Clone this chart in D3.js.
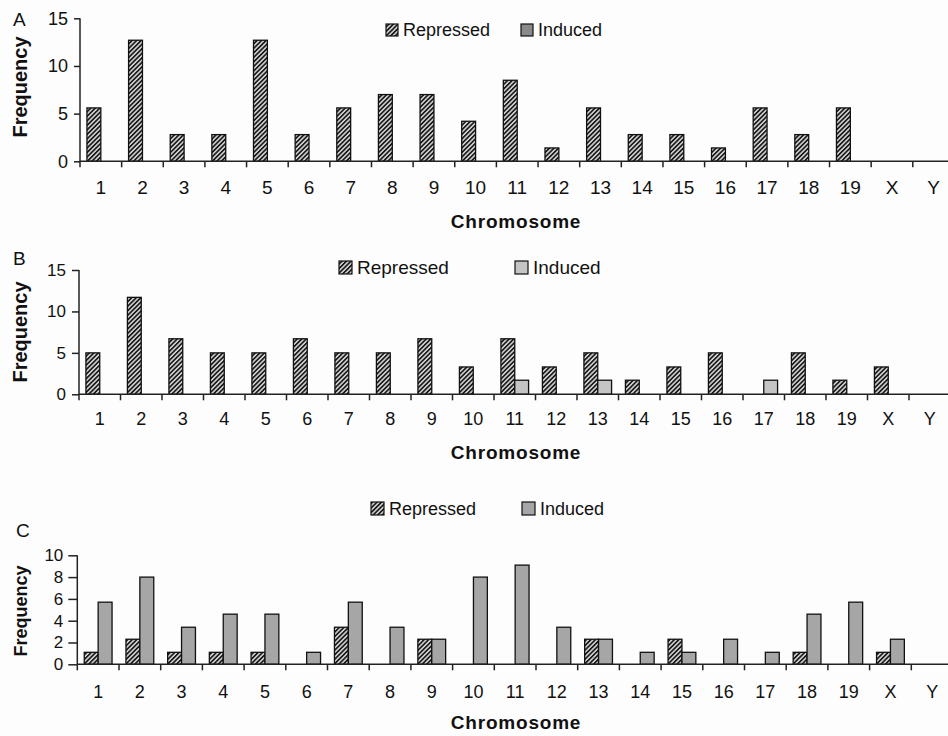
<!DOCTYPE html>
<html>
<head>
<meta charset="utf-8">
<script src="https://cdn.jsdelivr.net/npm/d3@7"></script>
<style>
  body { margin: 0; background: #fff; }
  svg { display: block; font-family: "Liberation Sans", Arial, sans-serif; }
</style>
</head>
<body>
<svg id="chart" width="948" height="736"></svg>
<script>
// chromosome categories
const chromosomes = ["1","2","3","4","5","6","7","8","9","10","11","12","13","14","15","16","17","18","19","X","Y"];
const seriesNames = ["Repressed", "Induced"];

// panel A (percent of genes per chromosome)
const repressedA = [5.6,12.7,2.8,2.8,12.7,2.8,5.6,7.0,7.0,4.2,8.5,1.4,5.6,2.8,2.8,1.4,5.6,2.8,5.6,0,0];
const inducedA   = [0,0,0,0,0,0,0,0,0,0,0,0,0,0,0,0,0,0,0,0,0];
const ticksA = [0,5,10,15];

// panel B
const repressedB = [5.0,11.7,6.7,5.0,5.0,6.7,5.0,5.0,6.7,3.3,6.7,3.3,5.0,1.7,3.3,5.0,0,5.0,1.7,3.3,0];
const inducedB   = [0,0,0,0,0,0,0,0,0,0,1.7,0,1.7,0,0,0,1.7,0,0,0,0];
const ticksB = [0,5,10,15];

// panel C
const repressedC = [1.1,2.3,1.1,1.1,1.1,0,3.4,0,2.3,0,0,0,2.3,0,2.3,0,0,1.1,0,1.1,0];
const inducedC   = [5.7,8.0,3.4,4.6,4.6,1.1,5.7,3.4,2.3,8.0,9.1,3.4,2.3,1.1,1.1,2.3,1.1,4.6,5.7,2.3,0];
const ticksC = [0,2,4,6,8,10];

const svg = d3.select("#chart");
svg.append("rect").attr("width", 948).attr("height", 736).attr("fill", "#fdfdfd");

// hatch pattern for repressed bars
const defs = svg.append("defs");
const pat = defs.append("pattern")
  .attr("id", "hatch")
  .attr("patternUnits", "userSpaceOnUse")
  .attr("width", 3.2).attr("height", 3.2)
  .attr("patternTransform", "rotate(45)");
pat.append("rect").attr("width", 3.2).attr("height", 3.2).attr("fill", "#d8d8d8");
pat.append("rect").attr("width", 1.7).attr("height", 3.2).attr("fill", "#1a1a1a");

function drawPanel(p) {
  const g = svg.append("g");
  const x = d3.scaleBand().domain(chromosomes).range([p.x0, p.x0 + 21 * p.step]).padding(0);
  const xs = d3.scaleBand().domain(seriesNames).range([0, x.bandwidth()]).paddingOuter(0.5).paddingInner(0);
  const y = d3.scaleLinear().domain([0, p.ymax]).range([p.y0, p.ytop]);

  const rows = chromosomes.map((c, i) => ({ c: c, Repressed: p.rep[i], Induced: p.ind[i] }));

  // bars
  const grp = g.selectAll(".grp").data(rows).enter().append("g")
    .attr("transform", d => `translate(${x(d.c)},0)`);
  grp.selectAll("rect")
    .data(d => seriesNames.map(s => ({ s: s, v: d[s] })).filter(e => e.v > 0))
    .enter().append("rect")
    .attr("x", e => xs(e.s))
    .attr("y", e => y(e.v))
    .attr("width", xs.bandwidth())
    .attr("height", e => y(0) - y(e.v))
    .attr("fill", e => e.s === "Repressed" ? "url(#hatch)" : p.indColor)
    .attr("stroke", "#111")
    .attr("stroke-width", 1.3);

  // x axis: labels centred in bands, ticks on band edges
  const xAxis = g.append("g").attr("transform", `translate(0,${p.y0})`)
    .call(d3.axisBottom(x).tickSize(0).tickPadding(p.xPad));
  xAxis.select(".domain").attr("stroke", "#222").attr("stroke-width", 1.5)
    .attr("d", `M${p.x0},0H948`);
  xAxis.selectAll("text").attr("font-size", p.xFont).attr("fill", "#111")
    .attr("font-family", "Liberation Sans, Arial, sans-serif");
  g.selectAll(".xt").data(chromosomes.concat(["end"])).enter().append("line")
    .attr("x1", (d, i) => i < 21 ? x(d) : x.range()[1])
    .attr("x2", (d, i) => i < 21 ? x(d) : x.range()[1])
    .attr("y1", p.y0).attr("y2", p.y0 + 6)
    .attr("stroke", "#222").attr("stroke-width", 1.5);

  // y axis
  const yAxis = g.append("g").attr("transform", `translate(${p.x0},0)`)
    .call(d3.axisLeft(y).tickValues(p.ticks).tickSize(p.yTick).tickPadding(p.yPad).tickFormat(d3.format("d")));
  yAxis.select(".domain").attr("stroke", "#222").attr("stroke-width", 1.5)
    .attr("d", `M0,${p.y0}V${p.ytop}`);
  yAxis.selectAll(".tick line").attr("stroke", "#222").attr("stroke-width", 1.5);
  yAxis.selectAll("text").attr("font-size", p.yFont).attr("fill", "#111")
    .attr("font-family", "Liberation Sans, Arial, sans-serif");

  // axis titles
  g.append("text").attr("transform", `translate(${p.fx},${p.fy}) rotate(-90)`)
    .attr("text-anchor", "middle").attr("font-weight", "bold").attr("font-size", p.fFont)
    .attr("fill", "#111").text("Frequency");
  g.append("text").attr("x", 516).attr("y", p.cy)
    .attr("text-anchor", "middle").attr("font-weight", "bold").attr("font-size", 19)
    .attr("letter-spacing", 0.8).attr("fill", "#111").text("Chromosome");

  // panel letter
  g.append("text").attr("x", p.lx).attr("y", p.ly).attr("font-size", 19).attr("fill", "#111").text(p.letter);

  // legend
  p.legend.forEach((l, i) => {
    g.append("rect").attr("x", l.x).attr("y", p.legY).attr("width", p.sw).attr("height", p.sw)
      .attr("fill", i === 0 ? "url(#hatch)" : p.indColor)
      .attr("stroke", "#111").attr("stroke-width", 1.2);
    g.append("text").attr("x", l.x + p.sw + 5).attr("y", p.legY + p.sw)
      .attr("font-size", p.legFont).attr("fill", "#111").text(seriesNames[i]);
  });
}

drawPanel({
  letter: "A", lx: 13, ly: 26,
  x0: 80, step: 41.64, y0: 161.3, ytop: 18.3, ymax: 15, ticks: ticksA,
  rep: repressedA, ind: inducedA, indColor: "#8a8a8a",
  xPad: 19, xFont: 19, yTick: 6, yPad: 6, yFont: 18,
  fx: 27, fy: 87, fFont: 20, cy: 228,
  legY: 24, sw: 12, legFont: 18, legend: [{ x: 386 }, { x: 521 }]
});

drawPanel({
  letter: "B", lx: 13, ly: 265,
  x0: 79, step: 41.5, y0: 394.3, ytop: 270, ymax: 15, ticks: ticksB,
  rep: repressedB, ind: inducedB, indColor: "#c4c4c4",
  xPad: 18, xFont: 18, yTick: 7, yPad: 6, yFont: 17,
  fx: 27, fy: 332, fFont: 20, cy: 459,
  legY: 261, sw: 13, legFont: 19, legend: [{ x: 339 }, { x: 515 }]
});

drawPanel({
  letter: "C", lx: 16, ly: 537,
  x0: 77.3, step: 41.7, y0: 664.3, ytop: 555.3, ymax: 10, ticks: ticksC,
  rep: repressedC, ind: inducedC, indColor: "#a6a6a6",
  xPad: 21, xFont: 18, yTick: 9, yPad: 5, yFont: 17,
  fx: 27, fy: 611, fFont: 18, cy: 729,
  legY: 502, sw: 13, legFont: 18, legend: [{ x: 371 }, { x: 522 }]
});
</script>
</body>
</html>
